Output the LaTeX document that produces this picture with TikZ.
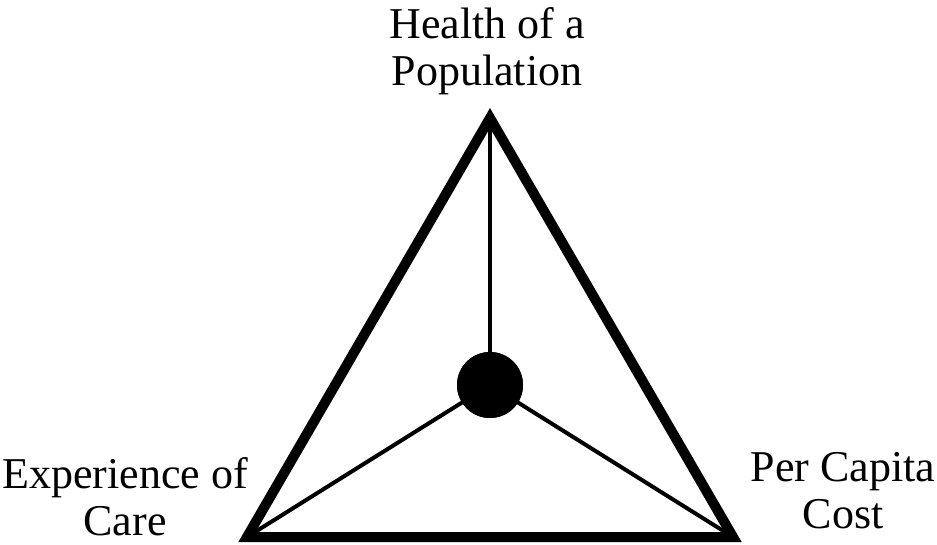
\documentclass[tikz,border=0pt]{standalone}
\usepackage{fontspec}
\setmainfont{Liberation Serif}
\begin{document}
\begin{tikzpicture}[x=1pt,y=-1pt,
  lbl/.style={align=center,inner sep=0pt,anchor=north,font=\fontsize{44}{47}\selectfont},
  frame/.style={line width=10pt,line join=miter},
  spoke/.style={line width=4pt}]
\useasboundingbox (0,0) rectangle (937,545);
\coordinate (top) at (490,118);
\coordinate (bl) at (247,537);
\coordinate (br) at (733,537);
\node[circle,fill=black,minimum size=66pt,inner sep=0pt] (hub) at (490,385) {};
\draw[spoke] (top) -- (hub.center);
\draw[spoke] (bl) -- (hub.center);
\draw[spoke] (br) -- (hub.center);
\node[circle,fill=black,minimum size=66pt,inner sep=0pt] at (hub) {};
\draw[frame] (top) -- (bl) -- (br) -- cycle;
\node[lbl] (health) at (487,7) {Health of a\\Population};
\node[lbl] (exp) at (125,457) {Experience of\\Care};
\node[lbl] (cost) at (843,452) {Per Capita\\Cost};
\end{tikzpicture}
\end{document}
